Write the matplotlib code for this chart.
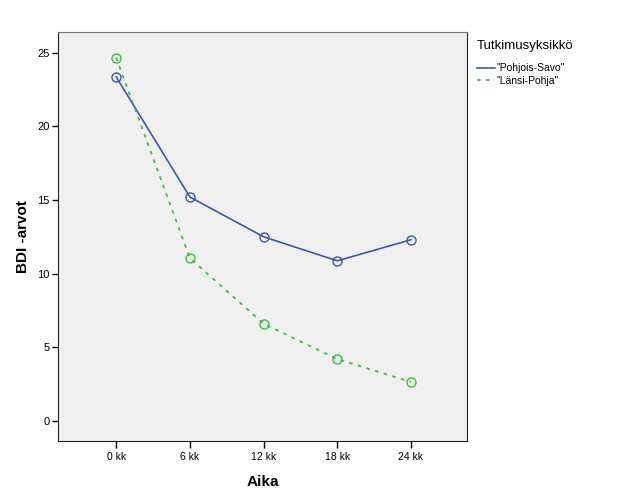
import matplotlib.pyplot as plt
from matplotlib.lines import Line2D

# data
categories = ['0 kk', '6 kk', '12 kk', '18 kk', '24 kk']
pohjois_savo = [23.35, 15.2, 12.5, 10.87, 12.3]
lansi_pohja = [24.65, 11.05, 6.6, 4.2, 2.65]
series_names = ['"Pohjois-Savo"', '"Länsi-Pohja"']

plt.rcParams['font.family'] = ['Liberation Sans', 'DejaVu Sans']

blue = '#3d57ad'
green = '#3fbf3f'
green_dash = (0, (2, 3))

fig = plt.figure(figsize=(6.26, 5.01), dpi=100)
ax = fig.add_axes([58 / 626, 60 / 501, 409 / 626, 409 / 501])
ax.set_facecolor('#f0f0f0')

x = list(range(len(categories)))
ax.plot(x, pohjois_savo, color=blue, lw=1.2, marker='o', ms=6.5,
        mfc='none', mec=blue, mew=1.0)
ax.plot(x, lansi_pohja, color=green, lw=1.3, ls=green_dash, marker='o', ms=6.5,
        mfc='none', mec=green, mew=1.0)

ax.set_xlim(-0.79, 4.76)
ax.set_ylim(-1.36, 26.4)
ax.set_xticks(x)
ax.set_xticklabels(categories, fontsize=7.5)
ax.set_yticks([0, 5, 10, 15, 20, 25])
ax.tick_params(axis='y', labelsize=8, length=4, width=1, pad=2)
ax.tick_params(axis='x', length=5, width=1, pad=3)

for side in ['left', 'bottom', 'right']:
    ax.spines[side].set_color('#222222')
ax.spines['top'].set_color('#777777')

ax.set_xlabel('Aika', fontsize=11, fontweight='bold', labelpad=9)
ax.set_ylabel('BDI -arvot', fontsize=11, fontweight='bold', labelpad=5)

handles = [Line2D([], [], color=blue, lw=1.2),
           Line2D([], [], color=green, lw=1.3, ls=green_dash)]
leg = fig.legend(handles, series_names, loc='upper left',
                 bbox_to_anchor=(473 / 626, 1 - 36 / 501),
                 frameon=False, title='Tutkimusyksikkö', fontsize=7.5,
                 title_fontsize=9.5, alignment='left', handlelength=1.7,
                 handletextpad=0.15, labelspacing=0.25, borderaxespad=0)
leg._legend_box.sep = 8

fig.savefig('out.png', dpi=100)
